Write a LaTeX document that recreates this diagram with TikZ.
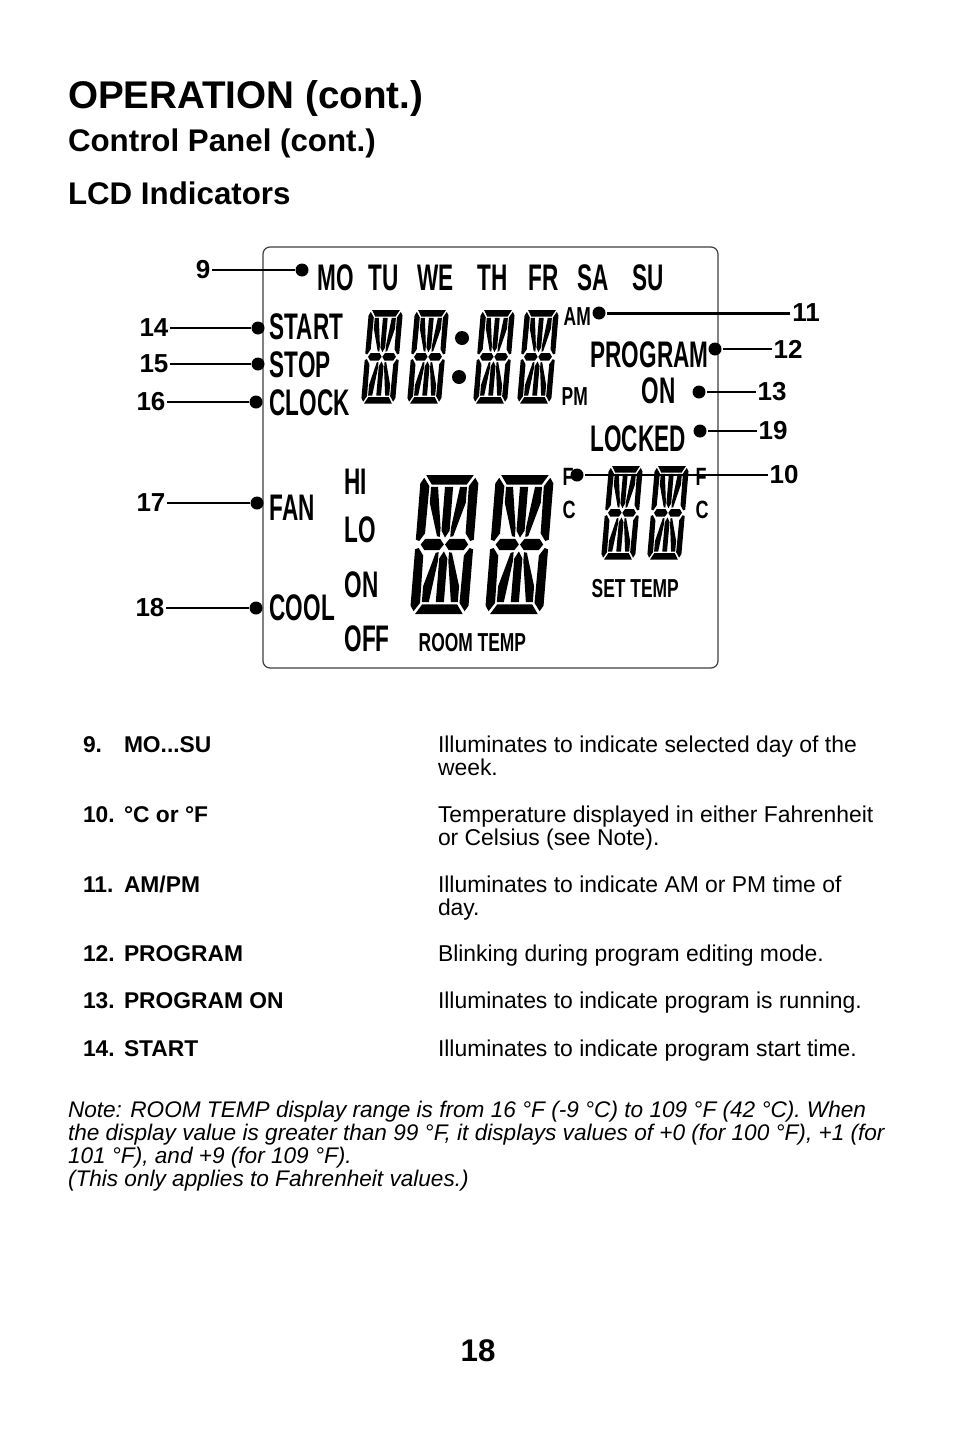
\documentclass[tikz,border=0pt]{standalone}
\usepackage{fontspec}
\setmainfont{Liberation Sans}
\usetikzlibrary{positioning}

\newcommand{\dayrange}{MO...SU}

\tikzset{
	page/.style={anchor=base west, inner sep=0pt},
	title/.style={page, font=\bfseries\fontsize{38.6}{39}\selectfont},
	subtitle/.style={page, font=\bfseries\fontsize{31.3}{31}\selectfont},
	body/.style={anchor=north west, inner sep=0pt, align=left, font=\fontsize{22.9}{23}\selectfont},
	bodybold/.style={page, font=\bfseries\fontsize{22.8}{23}\selectfont},
	lcdtext/.style={page, xscale=.61, font=\bfseries\fontsize{37}{37}\selectfont},
	lcdsmall/.style={page, xscale=.67, font=\bfseries\fontsize{26}{26}\selectfont},
	lcdunit/.style={page, xscale=.72, font=\bfseries\fontsize{25}{25}\selectfont},
	callout/.style={inner sep=1pt, font=\bfseries\fontsize{26}{26}\selectfont},
	dot/.style={circle, fill=black, inner sep=0pt, minimum size=13pt},
	bigdigit/.style={xslant=.08, xscale=.58, yscale=.695},
	smalldigit/.style={xslant=.086, xscale=.34, yscale=.468},
	lcdseg/.pic={
		\fill (9,0) -- (91,0) -- (80,14) -- (20,14) -- cycle;
		\fill (20,186) -- (80,186) -- (91,200) -- (9,200) -- cycle;
		\fill (0,12) -- (6,4) -- (16,16) -- (15,84) -- (6,95) -- (0,93) -- cycle;
		\fill (100,12) -- (94,4) -- (84,16) -- (85,84) -- (94,95) -- (100,93) -- cycle;
		\fill (0,107) -- (6,105) -- (15,116) -- (16,184) -- (6,196) -- (0,188) -- cycle;
		\fill (100,107) -- (94,105) -- (85,116) -- (84,184) -- (94,196) -- (100,188) -- cycle;
		\fill (9,100) -- (16,92) -- (42,92) -- (49,100) -- (42,108) -- (16,108) -- cycle;
		\fill (51,100) -- (58,92) -- (84,92) -- (91,100) -- (84,108) -- (58,108) -- cycle;
		\fill (43,17) -- (57,17) -- (57,80) -- (50,90) -- (43,80) -- cycle;
		\fill (43,120) -- (50,110) -- (57,120) -- (57,183) -- (43,183) -- cycle;
		\fill (19,17) -- (31,17) -- (41,76) -- (41,89) -- (36,88) -- (19,40) -- cycle;
		\fill (81,17) -- (69,17) -- (59,76) -- (59,89) -- (64,88) -- (81,40) -- cycle;
		\fill (19,183) -- (31,183) -- (41,124) -- (41,111) -- (36,112) -- (19,160) -- cycle;
		\fill (81,183) -- (69,183) -- (59,124) -- (59,111) -- (64,112) -- (81,160) -- cycle;
	}
}

\begin{document}
\begin{tikzpicture}[x=1pt, y=-1pt, line width=2pt]
	\useasboundingbox[fill=white] (0,0) rectangle (954,1437);

	% --- Headings ---
	\node[title] (optitle) at (67,108) {OPERATION (cont.)};
	\node[subtitle] (paneltitle) at (67,151) {Control Panel (cont.)};
	\node[subtitle] (lcdtitle) at (67,204) {LCD Indicators};

	% --- LCD panel ---
	\draw[line width=1.2pt, rounded corners=7pt, black!75] (263,247) rectangle (718,668);

	\foreach \tx/\bx/\word in {317/290/MO, 368/290/TU, 417/290/WE, 477/290/TH, 528/290/FR, 577/290/SA, 632/290/SU,
		269/339/START, 269/377/STOP, 269/415/CLOCK, 590/367/PROGRAM, 641/403/ON, 590/451/LOCKED,
		344/494/HI, 344/542/LO, 344/597/ON, 344/651/OFF, 269/520/FAN, 269/620/COOL}
		\node[lcdtext] at (\tx,\bx) {\word};
	\node[lcdsmall] at (563,325) {AM};
	\node[lcdsmall] at (561,405) {PM};
	\node[lcdsmall] at (591,597) {SET TEMP};
	\node[lcdsmall] at (418,651) {ROOM TEMP};
	\node[lcdunit] at (562,485) {F};
	\node[lcdunit] at (562,518) {C};
	\node[lcdunit] at (695,485) {F};
	\node[lcdunit] at (695,518) {C};

	% --- Digits ---
	\foreach \dx in {369,415,481,525}
		\pic[smalldigit] at (\dx,310) {lcdseg};
	\foreach \dx in {609,655}
		\pic[smalldigit] at (\dx,466) {lcdseg};
	\foreach \dx in {421,496}
		\pic[bigdigit] at (\dx,475) {lcdseg};
	\fill (462,338) circle (7);
	\fill (459,377) circle (7);

	% --- Callouts ---
	\foreach \no/\lx/\ly/\px/\py in {9/203/270/302/270, 14/154/328/258/328, 15/154/364/258/364, 16/151/402/256/402,
		17/151/503/257/503, 18/150/608/256/608, 11/806/313/599/313, 12/788/349/715/349,
		13/772/392/699/392, 19/773/431/700/431, 10/784/475/577/475} {
		\node[callout] (num\no) at (\lx,\ly) {\no};
		\node[dot] (dot\no) at (\px,\py) {};
		\draw (num\no) -- (dot\no);
	}
	\draw[line width=3pt] (num11) -- (dot11);

	% --- Indicator list ---
	\foreach \no/\name/\by in {9/\dayrange/752, 10/°C or °F/822, 11/AM\slash PM/892, 12/PROGRAM/961, 13/PROGRAM ON/1008, 14/START/1056} {
		\node[bodybold] at (82,\by) {\no.};
		\node[bodybold] at (123,\by) {\name};
	}
	\node[body] at (437,735) {Illuminates to indicate selected day of the\\week.};
	\node[body] at (437,805) {Temperature displayed in either Fahrenheit\\or Celsius (see Note).};
	\node[body] at (437,875) {Illuminates to indicate AM or PM time of\\day.};
	\node[body] at (437,944) {Blinking during program editing mode.};
	\node[body] at (437,991) {Illuminates to indicate program is running.};
	\node[body] at (437,1039) {Illuminates to indicate program start time.};

	% --- Note ---
	\node[body, font=\itshape\fontsize{22.6}{23}\selectfont] at (67,1100) {Note: ROOM TEMP display range is from 16 °F (-9 °C) to 109 °F (42 °C). When\\the display value is greater than 99 °F, it displays values of +0 (for 100 °F), +1 (for\\101 °F), and +9 (for 109 °F).\\(This only applies to Fahrenheit values.)};

	\node[anchor=base, inner sep=0pt, font=\bfseries\fontsize{31.3}{31}\selectfont] (pageno) at (478,1361) {18};
\end{tikzpicture}
\end{document}
